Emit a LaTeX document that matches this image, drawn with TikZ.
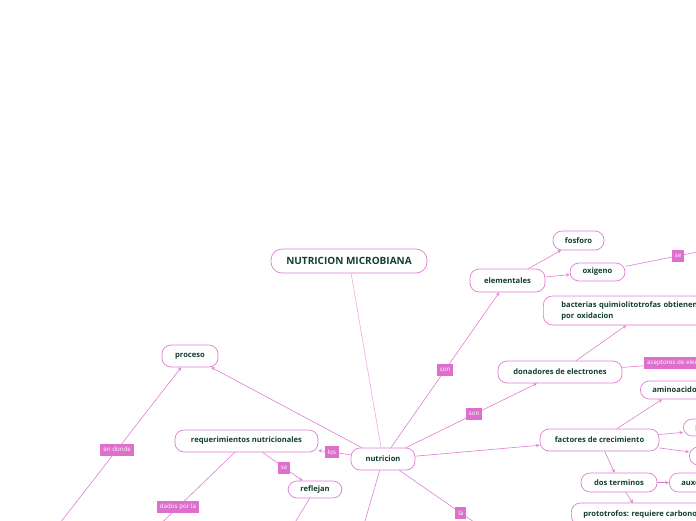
\documentclass[tikz,border=0pt]{standalone}
\usepackage{fontspec}
\setmainfont{Open Sans}
\usepackage{xcolor}
\usepackage{tikz}
\usetikzlibrary{arrows, positioning, shapes.misc}

\definecolor{mapline}{HTML}{E07CD3}
\definecolor{maptag}{HTML}{DE6FCC}
\definecolor{mapink}{HTML}{123F30}
\definecolor{mapfaint}{HTML}{EDAAE4}

\begin{document}
\begin{tikzpicture}[x=1pt, y=-1pt]
% Define styles
\tikzstyle{topic} = [rectangle, rounded corners=9pt, draw=mapline, fill=white, line width=0.7pt, text=mapink, font=\fontsize{7.6}{9}\selectfont\bfseries, minimum height=22pt, inner sep=0pt]
\tikzstyle{edgecut} = [topic, anchor=west, inner xsep=12pt]
\tikzstyle{headline} = [topic, font=\fontsize{10}{12}\selectfont\bfseries, minimum height=24pt, rounded corners=11pt]
\tikzstyle{tag} = [rectangle, fill=maptag, text=white, font=\fontsize{6.2}{7}\selectfont, inner xsep=3pt, inner ysep=0pt, minimum height=12pt]
\tikzstyle{arrow} = [draw=mapline, line width=0.6pt, ->, >=stealth]
\tikzstyle{line} = [draw=mapfaint, line width=0.6pt, -]

\useasboundingbox (0,0) rectangle (696,520);
\clip (0,0) rectangle (696,520);

% Nodes
\node (title) [headline, minimum width=156pt] at (349,261) {NUTRICION MICROBIANA};
\node (nutricion) [topic, minimum width=64pt] at (383,459) {nutricion};
\node (proceso) [topic, minimum width=56pt] at (190,356) {proceso};
\node (requer) [topic, minimum width=143pt] at (246.5,441) {requerimientos nutricionales};
\node (reflejan) [topic, minimum width=54pt, minimum height=17pt] at (315,489.5) {reflejan};
\node (elementales) [topic, minimum width=75pt, minimum height=23pt] at (507.5,280.5) {elementales};
\node (fosforo) [topic, minimum width=51pt, minimum height=19pt] at (578.5,240.5) {fosforo};
\node (oxigeno) [topic, minimum width=55pt, minimum height=18pt] at (597.5,272) {oxigeno};
\node (bacterias) [edgecut, minimum width=208pt, minimum height=29pt, text width=172pt, align=left, font=\fontsize{7.6}{11}\selectfont\bfseries] at (543,310.5) {bacterias quimiolitotrofas obtienen\\por oxidacion};
\node (donadores) [topic, minimum width=124pt] at (560,372) {donadores de electrones};
\node (aminoacidos) [edgecut, minimum height=18pt] at (640,390) {aminoacidos};
\node (factores) [topic, minimum width=119pt] at (599.5,440) {factores de crecimiento};
\node (purinas) [edgecut, minimum height=17pt] at (683,427.5) {purinas y pirimidinas};
\node (vitaminas) [edgecut, minimum height=18pt] at (689,456) {vitaminas};
\node (dosterm) [topic, minimum width=76pt, minimum height=19pt] at (619,482.5) {dos terminos};
\node (auxo) [edgecut, minimum height=19pt] at (669,482.5) {auxotrofos};
\node (proto) [edgecut, minimum height=22pt] at (571,514) {prototrofos: requiere carbono};

% Free ends
\coordinate (offEnDonde) at (39,550);
\coordinate (offDados) at (146,538);
\coordinate (offReflejan) at (291,529);
\coordinate (offDown) at (358,545);
\coordinate (offLa) at (500,540);
\coordinate (offSe) at (727,246);
\coordinate (offAcept) at (802,354);
\coordinate (protoTop) at (633,503);

% Connections
\draw [line] (title) -- (nutricion);
\draw [arrow] (nutricion) -- node[tag, pos=0.5] {son} (elementales);
\draw [arrow] (nutricion) -- node[tag, pos=0.52] {son} (donadores);
\draw [arrow] (nutricion) -- (factores);
\draw [arrow] (nutricion) -- (proceso);
\draw [arrow] (nutricion) -- node[tag, pos=0.58] {los} (requer);
\draw [arrow] (nutricion) -- (offDown);
\draw [arrow] (nutricion) -- node[tag, pos=0.61] {la} (offLa);
\draw [arrow] (offEnDonde) -- node[tag, pos=0.55] {en donde} (proceso);
\draw [arrow] (requer) -- node[tag, pos=0.54] {se} (reflejan);
\draw [arrow] (requer) -- node[tag, pos=0.64] {dados por la} (offDados);
\draw [arrow] (reflejan) -- (offReflejan);
\draw [arrow] (elementales) -- (fosforo);
\draw [arrow] (elementales) -- (oxigeno);
\draw [arrow] (oxigeno) -- node[tag, pos=0.52] {se} (offSe);
\draw [arrow] (donadores) -- (bacterias);
\draw [arrow] (donadores) -- node[tag, pos=0.33] {aceptores de electrones} (offAcept);
\draw [arrow] (factores) -- (aminoacidos);
\draw [arrow] (factores) -- (purinas);
\draw [arrow] (factores) -- (vitaminas);
\draw [arrow] (factores) -- (dosterm);
\draw [arrow] (dosterm) -- (auxo);
\draw [arrow] (dosterm) -- (protoTop);

\end{tikzpicture}
\end{document}
